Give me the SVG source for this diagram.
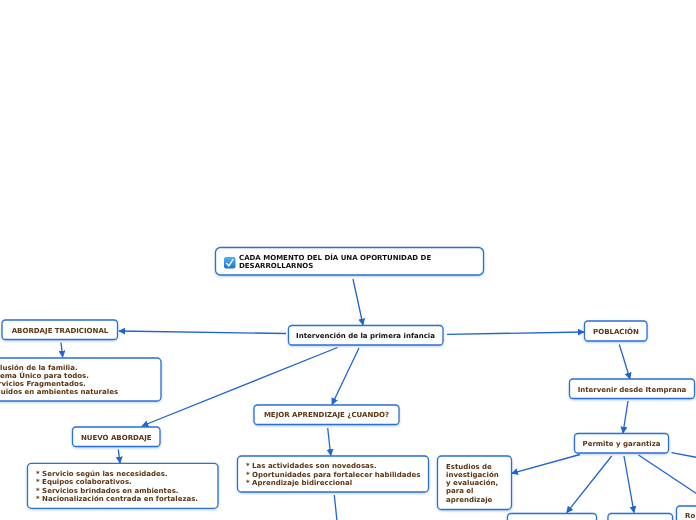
<svg xmlns="http://www.w3.org/2000/svg" width="696" height="520" viewBox="0 0 696 520">
<style>
.box{fill:#fff;stroke:#2a6fd8;stroke-width:1.3}
.t{font-family:"DejaVu Sans","Verdana",sans-serif;font-weight:bold;font-size:7px;fill:#5a3512}
.c{text-anchor:middle}
.k{fill:#111}
.ln{stroke:#1f63d4;stroke-width:1.3;fill:none;marker-end:url(#ah)}
.ln2{stroke:#1f63d4;stroke-width:1.3;fill:none}
</style>
<defs>
<marker id="ah" viewBox="0 0 10 10" refX="9" refY="5" markerWidth="7" markerHeight="7" markerUnits="userSpaceOnUse" orient="auto">
<path d="M0,0 L10,5 L0,10 z" fill="#1f63d4"/>
</marker>
<linearGradient id="ig" x1="0" y1="0" x2="0" y2="1">
<stop offset="0" stop-color="#4fb0f5"/>
<stop offset="1" stop-color="#1873d6"/>
</linearGradient>
<filter id="sh" x="-10%" y="-20%" width="120%" height="150%">
<feDropShadow dx="0" dy="1" stdDeviation="0.8" flood-color="#1f63d4" flood-opacity="0.3"/>
</filter>
</defs>

<g id="connectors">
<line class="ln" x1="353" y1="279" x2="363" y2="325"/>
<line class="ln" x1="286" y1="333.5" x2="119" y2="331"/>
<line class="ln" x1="61" y1="342.5" x2="62.7" y2="357"/>
<line class="ln" x1="337.5" y1="347.5" x2="142" y2="426"/>
<line class="ln" x1="118.3" y1="449.5" x2="120" y2="463"/>
<line class="ln" x1="359" y1="348" x2="332" y2="404.5"/>
<line class="ln" x1="327.7" y1="428" x2="330.7" y2="455.5"/>
<line class="ln2" x1="334.3" y1="495" x2="337" y2="521"/>
<line class="ln" x1="447" y1="334.3" x2="584" y2="332"/>
<line class="ln" x1="619.3" y1="344.5" x2="630" y2="379"/>
<line class="ln" x1="628" y1="401" x2="623" y2="433"/>
<line class="ln" x1="580" y1="454.5" x2="511.7" y2="473.3"/>
<line class="ln" x1="611.7" y1="456" x2="566.7" y2="512.7"/>
<line class="ln" x1="624" y1="456" x2="634" y2="512.5"/>
<line class="ln2" x1="638.5" y1="455" x2="706" y2="500"/>
<line class="ln2" x1="671.5" y1="452.7" x2="700" y2="458"/>
</g>

<g id="root" filter="url(#sh)">
<rect class="box" x="215.5" y="247.5" width="268" height="27.5" rx="5"/>
<rect x="224" y="257" width="11.5" height="11.5" rx="2" fill="url(#ig)"/>
<path d="M226.3,263 L228.8,265.8 L233.3,259.2" stroke="#fff" stroke-width="1.4" fill="none"/>
<text class="t k" x="239" y="260">CADA MOMENTO DEL DÍA UNA OPORTUNIDAD DE</text>
<text class="t k" x="239" y="268">DESARROLLARNOS</text>
</g>

<g id="intervencion" filter="url(#sh)">
<rect class="box" x="288.5" y="325.5" width="154.5" height="19.5" rx="3.5"/>
<text class="t c k" x="365.5" y="338">Intervención de la primera infancia</text>
</g>

<g id="abordaje-tradicional" filter="url(#sh)">
<rect class="box" x="2" y="320" width="115.5" height="19.5" rx="3.5"/>
<text class="t c" x="60" y="332.5">ABORDAJE TRADICIONAL</text>
</g>

<g id="tradicional-lista" filter="url(#sh)">
<rect class="box" x="-30" y="358" width="191" height="43" rx="4"/>
<text class="t" x="-19.5" y="369.5">* Exclusión de la familia.</text>
<text class="t" x="-21" y="377.5">* Sistema Único para todos.</text>
<text class="t" x="-17.8" y="385.5">* Servicios Fragmentados.</text>
<text class="t" x="-19.5" y="393.8">* Incluidos en ambientes naturales</text>
</g>

<g id="nuevo-abordaje" filter="url(#sh)">
<rect class="box" x="72.5" y="427" width="87.5" height="19.5" rx="3.5"/>
<text class="t c" x="116.3" y="439.5">NUEVO ABORDAJE</text>
</g>

<g id="nuevo-lista" filter="url(#sh)">
<rect class="box" x="27.5" y="463.3" width="190.5" height="45" rx="4"/>
<text class="t" x="36" y="476">* Servicio según las necesidades.</text>
<text class="t" x="36" y="484.3">* Equipos colaborativos.</text>
<text class="t" x="36" y="492.6">* Servicios brindados en ambientes.</text>
<text class="t" x="36" y="501">* Nacionalización centrada en fortalezas.</text>
</g>

<g id="mejor-aprendizaje" filter="url(#sh)">
<rect class="box" x="254" y="405" width="145" height="19.5" rx="3.5"/>
<text class="t c" x="326.5" y="417">MEJOR APRENDIZAJE ¿CUANDO?</text>
</g>

<g id="mejor-lista" filter="url(#sh)">
<rect class="box" x="237.5" y="456" width="191" height="36" rx="4"/>
<text class="t" x="246" y="468.3">* Las actividades son novedosas.</text>
<text class="t" x="246" y="476.6">* Oportunidades para fortalecer habilidades</text>
<text class="t" x="246" y="485">* Aprendizaje bidireccional</text>
</g>

<g id="poblacion" filter="url(#sh)">
<rect class="box" x="584.5" y="321" width="62.5" height="20" rx="3.5"/>
<text class="t c" x="616" y="333.8">POBLACIÓN</text>
</g>

<g id="intervenir" filter="url(#sh)">
<rect class="box" x="569.5" y="379" width="125" height="19.5" rx="3.5"/>
<text class="t c" x="632" y="391.8">Intervenir desde Itemprana</text>
</g>

<g id="permite" filter="url(#sh)">
<rect class="box" x="574.5" y="433.5" width="94" height="19.5" rx="3.5"/>
<text class="t c" x="621.5" y="446.3">Permite y garantiza</text>
</g>

<g id="estudios" filter="url(#sh)">
<rect class="box" x="437.5" y="456" width="74" height="53.5" rx="4"/>
<text class="t" x="446" y="468.5">Estudios de</text>
<text class="t" x="446" y="476.8">investigación</text>
<text class="t" x="446" y="485.1">y evaluación,</text>
<text class="t" x="446" y="493.4">para el</text>
<text class="t" x="446" y="501.7">aprendizaje</text>
</g>

<g id="nodo-inferior-1" filter="url(#sh)">
<rect class="box" x="507.5" y="513.5" width="89" height="20" rx="3.5"/>
</g>

<g id="nodo-inferior-2" filter="url(#sh)">
<rect class="box" x="608" y="513.5" width="64.5" height="20" rx="3.5"/>
</g>

<g id="nodo-inferior-3" filter="url(#sh)">
<rect class="box" x="676.5" y="506" width="60" height="30" rx="3.5"/>
<text class="t" x="685" y="518">Ro</text>
</g>
</svg>
